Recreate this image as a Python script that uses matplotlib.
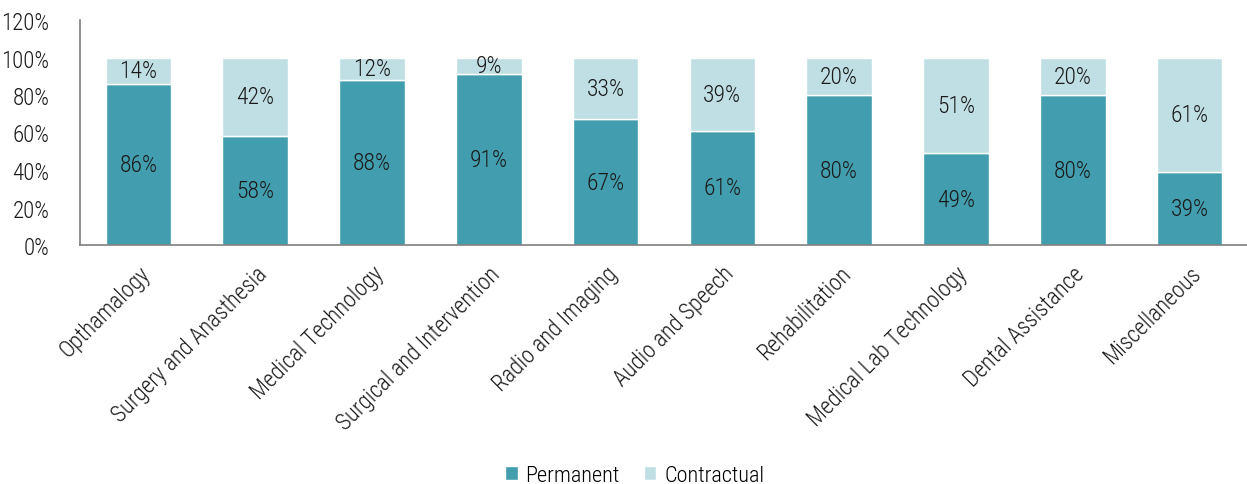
import matplotlib.pyplot as plt
from matplotlib.ticker import PercentFormatter

categories = ['Opthamalogy', 'Surgery and Anasthesia', 'Medical Technology',
              'Surgical and Intervention', 'Radio and Imaging', 'Audio and Speech',
              'Rehabilitation', 'Medical Lab Technology', 'Dental Assistance',
              'Miscellaneous']
permanent = [86, 58, 88, 91, 67, 61, 80, 49, 80, 39]
contractual = [14, 42, 12, 9, 33, 39, 20, 51, 20, 61]

plt.rcParams['font.family'] = ['Roboto Condensed', 'DejaVu Sans']
plt.rcParams['font.weight'] = 300

dark = '#429eaf'
light = '#bfdfe4'
ink = '#1a1a1a'

fig = plt.figure(figsize=(12.47, 4.85), dpi=100)
ax = fig.add_axes([80/1247, 239/485, 1168/1247, 225/485])

x = range(len(categories))
b1 = ax.bar(x, permanent, width=0.56, color=dark, edgecolor='white', linewidth=1, label='Permanent')
b2 = ax.bar(x, contractual, bottom=permanent, width=0.56, color=light, edgecolor='white',
            linewidth=1, label='Contractual')
ax.bar_label(b1, labels=[f'{v}%' for v in permanent], label_type='center', fontsize=17, color=ink)
ax.bar_label(b2, labels=[f'{v}%' for v in contractual], label_type='center', fontsize=17, color=ink)

ax.set_xlim(-0.5, len(categories) - 0.5)
ax.set_ylim(0, 120)
ax.set_yticks(range(0, 121, 20))
ax.yaxis.set_major_formatter(PercentFormatter(decimals=0))
ax.set_xticks(list(x))
ax.set_xticklabels(categories, rotation=45, ha='right', rotation_mode='anchor')
ax.tick_params(axis='both', labelsize=16.5, length=0, colors=ink)
ax.tick_params(axis='y', pad=22)
ax.tick_params(axis='x', pad=12)
for s in ['top', 'right']:
    ax.spines[s].set_visible(False)
for s in ['left', 'bottom']:
    ax.spines[s].set_color('#7f7f7f')
    ax.spines[s].set_linewidth(1.2)

fig.legend(handles=[b1, b2], loc='lower center', bbox_to_anchor=(0.509, -0.045), ncol=2,
           frameon=False, fontsize=16, handlelength=0.55, handleheight=0.55,
           handletextpad=0.35, columnspacing=1.1)

fig.savefig('out.png', dpi=100)
